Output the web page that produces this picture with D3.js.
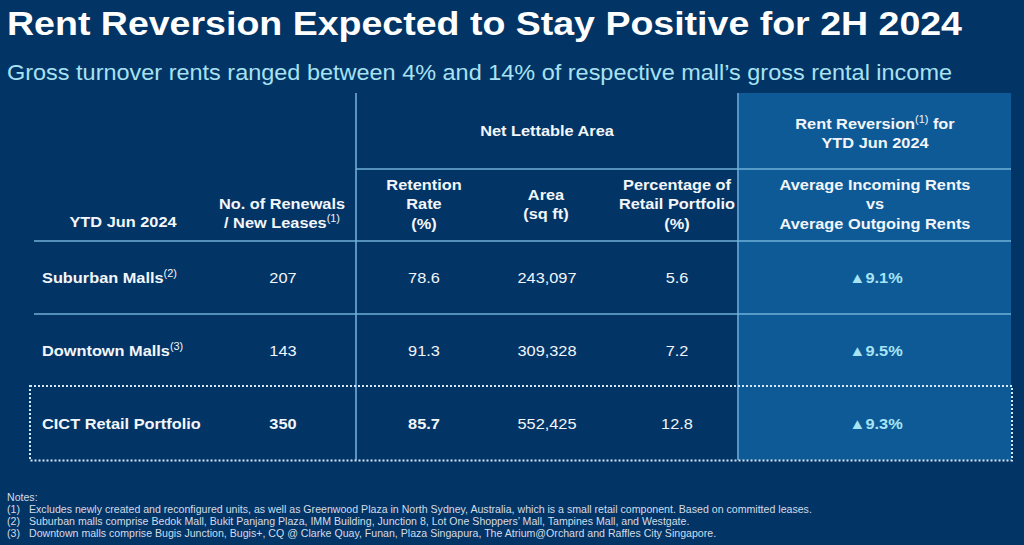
<!DOCTYPE html>
<html><head><meta charset="utf-8">
<script src="https://cdn.jsdelivr.net/npm/d3@7"></script>
<style>
html,body{margin:0;padding:0;background:#023466;}
svg{display:block;font-family:"Liberation Sans",Arial,sans-serif;}
</style></head>
<body>
<svg id="c" width="1024" height="545"></svg>
<script>
// ---- data ----
const categories = ["Suburban Malls", "Downtown Malls", "CICT Retail Portfolio"];
const categoryNotes = ["(2)", "(3)", ""];
const renewals = [207, 143, 350];
const retentionRate = [78.6, 91.3, 85.7];
const areaSqft = [243097, 309328, 552425];
const pctPortfolio = [5.6, 7.2, 12.8];
const rentReversion = [9.1, 9.5, 9.3];
const title = "Rent Reversion Expected to Stay Positive for 2H 2024";
const subtitle = "Gross turnover rents ranged between 4% and 14% of respective mall\u2019s gross rental income";
const notes = [
  ["(1)", "Excludes newly created and reconfigured units, as well as Greenwood Plaza in North Sydney, Australia, which is a small retail component. Based on committed leases."],
  ["(2)", "Suburban malls comprise Bedok Mall, Bukit Panjang Plaza, IMM Building, Junction 8, Lot One Shoppers\u2019 Mall, Tampines Mall, and Westgate."],
  ["(3)", "Downtown malls comprise Bugis Junction, Bugis+, CQ @ Clarke Quay, Funan, Plaza Singapura, The Atrium@Orchard and Raffles City Singapore."]
];

// ---- layout ----
const svg = d3.select("#c");
const BG = "#023466", HL = "#0e5a97", LINE = "#6fb0d8", TXT = "#f2f6fa", CYAN = "#a6e4f4";
const SX = 1.09;

svg.append("rect").attr("width",1024).attr("height",545).attr("fill",BG);

svg.append("text").attr("x",7).attr("y",35).attr("fill","#ffffff")
  .attr("font-size",34).attr("font-weight","bold")
  .attr("textLength",955).attr("lengthAdjust","spacingAndGlyphs").text(title);
svg.append("text").attr("x",7).attr("y",80).attr("fill","#a8e2f2")
  .attr("font-size",22.3)
  .attr("textLength",945).attr("lengthAdjust","spacingAndGlyphs").text(subtitle);

// highlight column
svg.append("rect").attr("x",738).attr("y",93).attr("width",273).attr("height",367).attr("fill",HL);

// row scale
const y = d3.scaleBand().domain(categories).range([241, 460]).paddingInner(0).paddingOuter(0);
const colX = {label:42, ren:283, ret:424, area:547, pct:677, rev:876};

// lines
const g = svg.append("g").attr("stroke",LINE).attr("stroke-width",1.6);
g.append("line").attr("x1",356).attr("x2",356).attr("y1",93).attr("y2",460);
g.append("line").attr("x1",738).attr("x2",738).attr("y1",93).attr("y2",460).attr("stroke","#5e9fcf").attr("stroke-width",1.8);
g.append("line").attr("x1",356).attr("x2",1011).attr("y1",169).attr("y2",169);
g.append("line").attr("x1",34).attr("x2",1011).attr("y1",241).attr("y2",241);
g.append("line").attr("x1",34).attr("x2",1011).attr("y1",y(categories[1])).attr("y2",y(categories[1]));

// dotted box around total row
svg.append("rect").attr("x",30).attr("y",386)
  .attr("width",982).attr("height",74.5).attr("fill","none")
  .attr("stroke","#d5e8f5").attr("stroke-width",2).attr("stroke-dasharray","2,2");

// stretched text helper
function stext(x, yy, anchor){
  return svg.append("text").attr("transform",`translate(${x},${yy}) scale(${SX},1)`)
    .attr("text-anchor",anchor).attr("font-size",15);
}

function multi(x, yc, lines, opts={}){
  const lh = 19.5;
  const t = stext(x, 0, "middle").attr("fill",opts.fill||TXT).attr("font-weight","bold");
  const y0 = yc - (lines.length-1)*lh/2 + 5.5;
  lines.forEach((l,i)=>{
    const ts = t.append("tspan").attr("x",0).attr("y",y0+i*lh);
    if (Array.isArray(l)) {
      ts.text(l[0]);
      t.append("tspan").attr("dy",-6).attr("font-size",10).attr("font-weight","normal").text(l[1]);
      t.append("tspan").attr("dy",6).text(l[2]||"");
    } else ts.text(l);
  });
}
multi(123, 222, ["YTD Jun 2024"]);
multi(282, 213, ["No. of Renewals", ["/ New Leases","(1)",""]]);
multi(424, 204, ["Retention","Rate","(%)"]);
multi(547, 131, ["Net Lettable Area"]);
multi(546, 204, ["Area","(sq ft)"]);
multi(677, 204, ["Percentage of","Retail Portfolio","(%)"]);
multi(875, 133, [["Rent Reversion","(1)"," for"], "YTD Jun 2024"]);
multi(875, 204, ["Average Incoming Rents","vs","Average Outgoing Rents"]);

// rows
const fmtArea = d3.format(",");
categories.forEach((c,i)=>{
  const yc = y(c) + y.bandwidth()/2 + 5.5;
  const total = i === categories.length-1;
  const lab = stext(colX.label, yc, "start").attr("fill",TXT).attr("font-weight","bold").text(c);
  if (categoryNotes[i]) lab.append("tspan").attr("dy",-6).attr("font-size",10).attr("font-weight","normal").text(categoryNotes[i]);
  const cell = (x, txt, bold, fill) => stext(x, yc, "middle").attr("fill",fill||TXT)
    .attr("font-weight", bold?"bold":"normal").text(txt);
  cell(colX.ren, renewals[i], total);
  cell(colX.ret, retentionRate[i].toFixed(1), total);
  cell(colX.area, fmtArea(areaSqft[i]), false);
  cell(colX.pct, pctPortfolio[i].toFixed(1), false);
  cell(colX.rev, "\u25B2" + rentReversion[i].toFixed(1) + "%", true, CYAN);
});

// notes
const nt = svg.append("g").attr("fill","#d4dce6").attr("font-size",10);
const ntext = (x, yy, s) => nt.append("text").attr("transform",`translate(${x},${yy}) scale(1.06,1)`).text(s);
ntext(7, 501, "Notes:");
notes.forEach((n,i)=>{
  ntext(7, 513+i*12, n[0]);
  ntext(29, 513+i*12, n[1]);
});
</script>
</body></html>
